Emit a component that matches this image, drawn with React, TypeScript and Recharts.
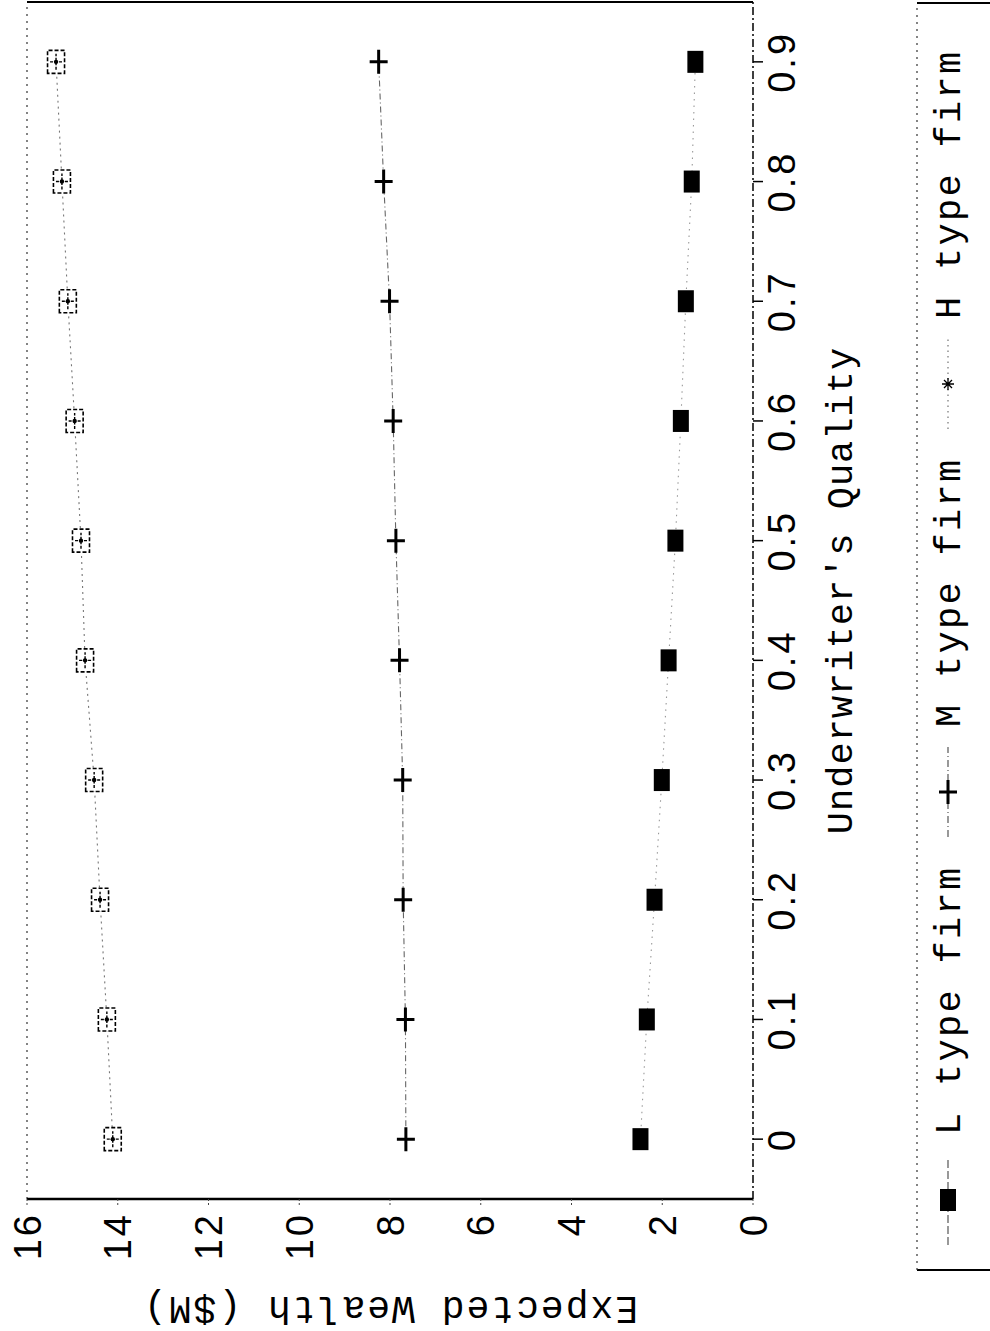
import { Line, LineChart, ReferenceLine, XAxis, YAxis } from "recharts";

// underwriter quality (x) and expected wealth in $M (y) per firm type
const quality = [0, 0.1, 0.2, 0.3, 0.4, 0.5, 0.6, 0.7, 0.8, 0.9];
const lFirm = [2.48, 2.34, 2.17, 2.01, 1.86, 1.71, 1.59, 1.48, 1.35, 1.27];
const mFirm = [7.65, 7.66, 7.71, 7.72, 7.79, 7.87, 7.93, 8.01, 8.14, 8.25];
const hFirm = [14.11, 14.24, 14.39, 14.52, 14.72, 14.81, 14.95, 15.1, 15.23, 15.36];

const qualityTicks = [0, 0.1, 0.2, 0.3, 0.4, 0.5, 0.6, 0.7, 0.8, 0.9];
const wealthTicks = [0, 2, 4, 6, 8, 10, 12, 14, 16];

const legendNames = ["L type firm", "M type firm", "H type firm"];

const rows = quality.map((q, i) => ({ q, L: lFirm[i], M: mFirm[i], H: hFirm[i] }));

const W = 1331;
const H = 990;
const SANS = "'Liberation Sans', Arial, sans-serif";
const MONO = "'Liberation Mono', 'Courier New', monospace";

function LDot(p: any) {
  if (p.cx == null) return <g key={p.key ?? p.index} />;
  return <rect key={`l${p.index}`} x={p.cx - 11} y={p.cy - 8} width={22} height={16} fill="#000" />;
}

function MDot(p: any) {
  if (p.cx == null) return <g key={p.key ?? p.index} />;
  return (
    <path
      key={`m${p.index}`}
      d={`M${p.cx - 12},${p.cy}H${p.cx + 12}M${p.cx},${p.cy - 9}V${p.cy + 9}`}
      stroke="#000"
      strokeWidth={3}
      fill="none"
    />
  );
}

function HDot(p: any) {
  if (p.cx == null) return <g key={p.key ?? p.index} />;
  const { cx, cy } = p;
  return (
    <g key={`h${p.index}`}>
      <rect x={cx - 11.5} y={cy - 8.5} width={23} height={17} fill="#fff" stroke="#000" strokeWidth={1.6} strokeDasharray="4 2" />
      <path d={`M${cx - 8},${cy}H${cx + 8}M${cx},${cy - 6}V${cy + 6}`} stroke="#000" strokeWidth={1.4} strokeDasharray="3 1.5" />
      <circle cx={cx} cy={cy} r={2.2} fill="#000" />
    </g>
  );
}

function QualityTick({ x, y, payload }: any) {
  const v = payload.value;
  return (
    <text x={x} y={y + 28} textAnchor="middle" fontFamily={SANS} fontSize={38} letterSpacing={3} fill="#000">
      {v === 0 ? "0" : v.toFixed(1)}
    </text>
  );
}

function WealthTick({ x, y, payload }: any) {
  return (
    <text x={x} y={y} dy="0.36em" textAnchor="end" fontFamily={SANS} fontSize={38} letterSpacing={3} fill="#000">
      {payload.value}
    </text>
  );
}

function Legend() {
  const cy = 948;
  const pitch = 408;
  return (
    <svg width={W} height={H} style={{ position: "absolute", left: 0, top: 0, pointerEvents: "none" }}>
      <path d={`M61,${H}V917`} stroke="#000" strokeWidth={2} />
      <path d="M61,917H1328" stroke="#333" strokeWidth={1.2} strokeDasharray="2 5" />
      <path d={`M1328,917V${H}`} stroke="#000" strokeWidth={2} />
      {legendNames.map((name, i) => {
        const mx = 131 + i * pitch;
        return (
          <g key={name}>
            {i === 0 && (
              <>
                <path d={`M${mx - 45},${cy}H${mx + 42}`} stroke="#555" strokeWidth={1.2} strokeDasharray="8 3" />
                <rect x={mx - 11} y={cy - 8} width={22} height={16} fill="#000" />
              </>
            )}
            {i === 1 && (
              <>
                <path d={`M${mx - 45},${cy}H${mx + 45}`} stroke="#555" strokeWidth={1.2} strokeDasharray="7 3 1 3" />
                <path d={`M${mx - 12},${cy}H${mx + 12}M${mx},${cy - 9}V${cy + 9}`} stroke="#000" strokeWidth={3} />
              </>
            )}
            {i === 2 && (
              <>
                <path d={`M${mx - 45},${cy}H${mx + 45}`} stroke="#666" strokeWidth={1.1} strokeDasharray="1.5 4" />
                <path
                  d={`M${mx - 6},${cy}H${mx + 6}M${mx},${cy - 6}V${cy + 6}M${mx - 4},${cy - 4}L${mx + 4},${cy + 4}M${mx - 4},${cy + 4}L${mx + 4},${cy - 4}`}
                  stroke="#000"
                  strokeWidth={1.3}
                />
              </>
            )}
            <text x={mx + 65} y={cy + 12} fontFamily={MONO} fontSize={37} letterSpacing={2.3} fill="#000">
              {name}
            </text>
          </g>
        );
      })}
    </svg>
  );
}

export default function App() {
  return (
    <div style={{ position: "absolute", left: 0, top: 0, width: 990, height: 1331, overflow: "hidden", background: "#fff" }}>
      <div
        style={{
          position: "absolute",
          left: 0,
          top: 0,
          width: W,
          height: H,
          transformOrigin: "0 0",
          transform: `translateY(${W}px) rotate(-90deg)`,
        }}
      >
        <LineChart width={W} height={H} data={rows} margin={{ top: 27, right: 2, bottom: 0, left: 0 }}>
          <XAxis
            dataKey="q"
            type="number"
            domain={[-0.05, 0.95]}
            ticks={qualityTicks}
            height={237}
            tickSize={10}
            tickMargin={4}
            tick={<QualityTick />}
            axisLine={{ stroke: "#000", strokeWidth: 1.5, strokeDasharray: "8 3 2 3" }}
            tickLine={{ stroke: "#000", strokeWidth: 1.5 }}
            allowDataOverflow
            label={{
              content: (p: any) => {
                const vb = p.viewBox;
                return (
                  <text x={vb.x + vb.width / 2 + 10} y={852} textAnchor="middle" fontFamily={MONO} fontSize={37} letterSpacing={1} fill="#000">
                    Underwriter's Quality
                  </text>
                );
              },
            }}
          />
          <YAxis
            type="number"
            domain={[0, 16]}
            ticks={wealthTicks}
            width={132}
            tickSize={6}
            tickMargin={7}
            tick={<WealthTick />}
            axisLine={{ stroke: "#000", strokeWidth: 2.5 }}
            tickLine={{ stroke: "#444", strokeWidth: 1, strokeDasharray: "2 2" }}
            label={{
              content: (p: any) => {
                const vb = p.viewBox;
                const cy = vb.y + vb.height / 2;
                return (
                  <text
                    x={34}
                    y={cy}
                    transform={`rotate(-90, 34, ${cy})`}
                    textAnchor="middle"
                    fontFamily={MONO}
                    fontSize={38}
                    letterSpacing={2}
                    fill="#000"
                  >
                    Expected Wealth ($M)
                  </text>
                );
              },
            }}
          />
          <ReferenceLine y={16} stroke="#333" strokeWidth={1.2} strokeDasharray="2 5" />
          <ReferenceLine x={0.95} stroke="#000" strokeWidth={2} />
          <Line
            dataKey="L"
            stroke="#999"
            strokeWidth={1.1}
            strokeDasharray="1.5 5"
            dot={LDot}
            activeDot={false}
            isAnimationActive={false}
          />
          <Line
            dataKey="M"
            stroke="#666"
            strokeWidth={1.1}
            strokeDasharray="6 3 1 3"
            dot={MDot}
            activeDot={false}
            isAnimationActive={false}
          />
          <Line
            dataKey="H"
            stroke="#777"
            strokeWidth={1.1}
            strokeDasharray="2 4"
            dot={HDot}
            activeDot={false}
            isAnimationActive={false}
          />
        </LineChart>
        <Legend />
      </div>
    </div>
  );
}
